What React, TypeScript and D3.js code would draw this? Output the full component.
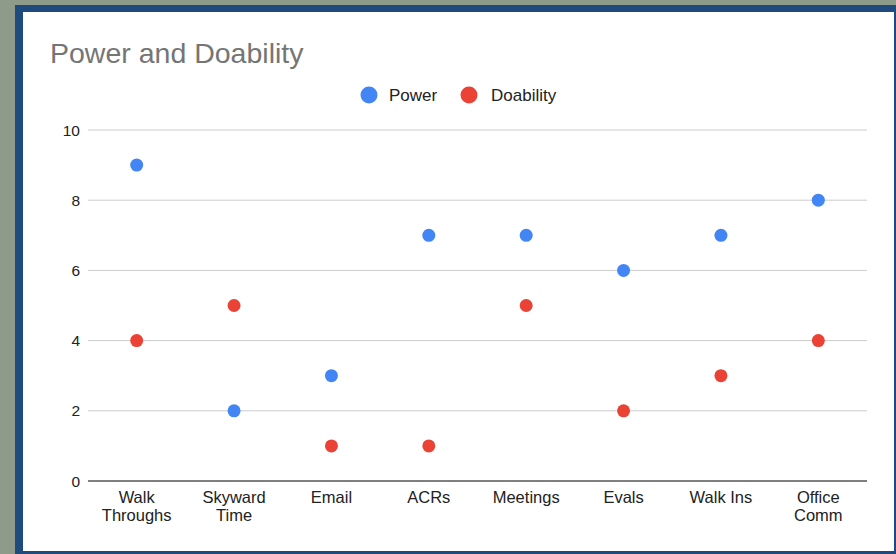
import React from "react";
import * as d3 from "d3";

const categories = [
  ["Walk", "Throughs"],
  ["Skyward", "Time"],
  ["Email"],
  ["ACRs"],
  ["Meetings"],
  ["Evals"],
  ["Walk Ins"],
  ["Office", "Comm"],
];
const categoryKeys = ["Walk Throughs", "Skyward Time", "Email", "ACRs", "Meetings", "Evals", "Walk Ins", "Office Comm"];
const powerValues = [9, 2, 3, 7, 7, 6, 7, 8];
const doabilityValues = [4, 5, 1, 1, 5, 2, 3, 4];
const yTicks = [0, 2, 4, 6, 8, 10];

const W = 896;
const H = 554;
const FONT = "Arial, 'Liberation Sans', sans-serif";

export default function App() {
  const x = d3.scaleBand().domain(categoryKeys).range([88, 867]);
  const y = d3.scaleLinear().domain([0, 10]).range([481, 130]);
  const cx = (i: number) => (x(categoryKeys[i]) as number) + x.bandwidth() / 2;
  const blue = "#4285f4";
  const red = "#ea4335";
  return (
    <svg width={W} height={H} style={{ position: "fixed", left: 0, top: 0 }} fontFamily={FONT}>
      <rect x={0} y={0} width={W} height={H} fill="#8e9a8a" />
      <rect x={15} y={5} width={W - 15} height={H - 5} fill="#1f4a7e" />
      <rect x={23} y={12} width={871} height={539} fill="#ffffff" />
      <text x={50} y={63} fontSize={28.5} fill="#757575">Power and Doability</text>
      <circle cx={369} cy={95} r={8.5} fill={blue} />
      <text x={389} y={101} fontSize={17} fill="#222">Power</text>
      <circle cx={469} cy={95} r={8.5} fill={red} />
      <text x={491} y={101} fontSize={17} fill="#222">Doability</text>
      {yTicks.map((t) => (
        <g key={t}>
          <line
            x1={88}
            x2={867}
            y1={y(t)}
            y2={y(t)}
            stroke={t === 0 ? "#555" : "#cccccc"}
            strokeWidth={t === 0 ? 1.6 : 1}
          />
          <text x={80} y={y(t) + 5.5} textAnchor="end" fontSize={15.5} fill="#222">{t}</text>
        </g>
      ))}
      {categories.map((lines, i) => (
        <text key={i} x={cx(i)} y={503} textAnchor="middle" fontSize={16.5} fill="#222">
          {lines.map((l, j) => (
            <tspan key={j} x={cx(i)} dy={j === 0 ? 0 : 18}>{l}</tspan>
          ))}
        </text>
      ))}
      {powerValues.map((v, i) => (
        <circle key={"p" + i} cx={cx(i)} cy={y(v)} r={6.5} fill={blue} />
      ))}
      {doabilityValues.map((v, i) => (
        <circle key={"d" + i} cx={cx(i)} cy={y(v)} r={6.5} fill={red} />
      ))}
    </svg>
  );
}
